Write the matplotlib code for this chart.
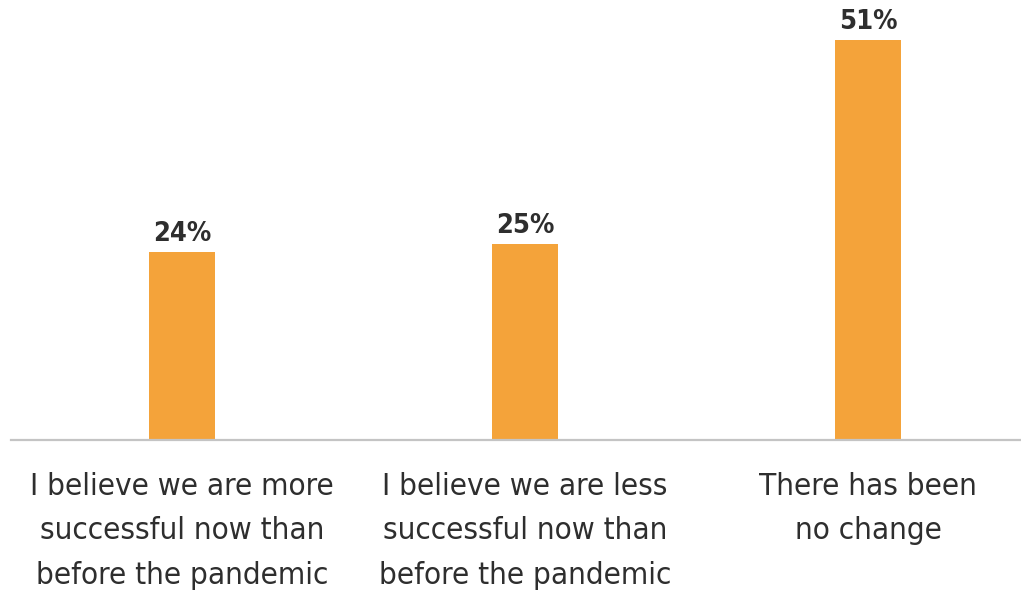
import matplotlib
matplotlib.use("Agg")
import matplotlib.pyplot as plt

categories = [
    "I believe we are more\nsuccessful now than\nbefore the pandemic",
    "I believe we are less\nsuccessful now than\nbefore the pandemic",
    "There has been\nno change",
]
values = [24, 25, 51]
value_labels = ["24%", "25%", "51%"]

BAR_COLOR = "#F4A33A"
TEXT_COLOR = "#2E2E2E"
FONT = ["DejaVu Sans"]

W, H = 1021, 597
fig = plt.figure(figsize=(W / 100, H / 100), dpi=100)
ax = fig.add_axes([11 / W, (H - 440) / H, (W - 11) / W, 440 / H])

x = list(range(len(values)))
ax.bar(x, values, width=0.192, color=BAR_COLOR, zorder=2)
ax.set_xlim(-0.4985, 2.446)
ax.set_ylim(0, 56.1)

for xi, v, lab in zip(x, values, value_labels):
    ax.text(xi, v + 0.6, lab, ha="center", va="bottom", fontsize=19.5,
            fontweight="bold", fontstretch="condensed", color=TEXT_COLOR, family=FONT)

for xi, cat in zip(x, categories):
    ax.text(xi, -4.1, cat, ha="center", va="top", fontsize=22.5,
            fontstretch="condensed", color=TEXT_COLOR, family=FONT, linespacing=1.66)

for s in ["top", "right", "left"]:
    ax.spines[s].set_visible(False)
ax.spines["bottom"].set_color("#C4C4C4")
ax.spines["bottom"].set_linewidth(1.6)
ax.set_xticks([])
ax.set_yticks([])

fig.savefig("out.png", dpi=100)
